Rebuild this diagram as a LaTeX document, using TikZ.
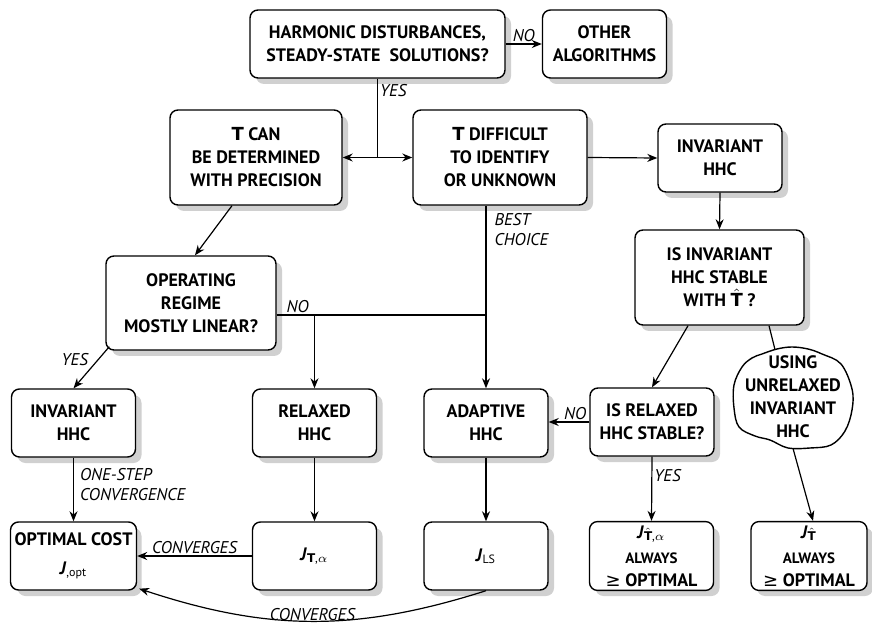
\documentclass[tikz,border=0pt]{standalone}
\usepackage{amsmath,amssymb}
\usepackage{fontspec}
\setmainfont{PT Sans}
\newfontfamily\heavyfont{DejaVu Sans}
\newcommand{\bT}{{\heavyfont\bfseries T}}
\newcommand{\geqsym}{{\heavyfont\mdseries ≥}}
\usepackage{xcolor,tikz}
\usetikzlibrary{arrows.meta}
\definecolor{shadowgray}{RGB}{208,208,208}

\begin{document}
\begin{tikzpicture}[x=0.5pt,y=-0.5pt,>={Stealth[length=5pt,width=4pt]},box/.style={draw,rounded corners=4pt,align=center,line width=0.7pt,minimum width=62pt,minimum height=34pt,inner sep=2pt,font=\fontsize{9}{11.5}\selectfont\bfseries,fill=white},arr/.style={->,line width=0.6pt},lbl/.style={font=\fontsize{8.5}{10}\selectfont\itshape,inner sep=1pt,align=left}]
\useasboundingbox (0,0) rectangle (872,625);
\fill[shadowgray,rounded corners=4pt] (256,16) rectangle (511,84) (548.5,16) rectangle (672.5,84) (176,116) rectangle (348,211) (419,116) rectangle (593,211) (664,130) rectangle (788,198) (641,236) rectangle (810,331) (112,262) rectangle (282,356);
\fill[shadowgray,rounded corners=4pt] (17.5,395) rectangle (141.5,463) (258.5,395) rectangle (382.5,463) (430,395) rectangle (554,463) (596,394) rectangle (720,462);
\fill[shadowgray,rounded corners=4pt] (17.5,528) rectangle (141.5,596) (258.5,528) rectangle (382.5,596) (430,528) rectangle (554,596) (595.5,528) rectangle (719.5,596) (757,528) rectangle (873,596);
\node[box,minimum width=127.5pt] (harm) at (377.5,44) {HARMONIC DISTURBANCES,\\STEADY-STATE\ \ SOLUTIONS?};
\node[box] (other) at (604.5,44) {OTHER\\ALGORITHMS};
\node[box,minimum width=86pt,minimum height=47.5pt] (tcan) at (256,157.5) {\bT{} CAN\\BE DETERMINED\\WITH PRECISION};
\node[box,minimum width=87pt,minimum height=47.5pt] (tdiff) at (500,157.5) {\bT{} DIFFICULT\\TO IDENTIFY\\OR UNKNOWN};
\node[box] (invhhc) at (720,158) {INVARIANT\\HHC};
\node[box,minimum width=84.5pt,minimum height=47.5pt] (isinv) at (719.5,277.5) {IS INVARIANT\\HHC STABLE\\WITH \smash{$\hat{\text{\bT}}$} ?};
\node[box,minimum width=85pt,minimum height=47pt] (oper) at (191,303) {OPERATING\\REGIME\\MOSTLY LINEAR?};
\node[box] (inv2) at (73.5,423) {INVARIANT\\HHC};
\node[box] (relax) at (314.5,423) {RELAXED\\HHC};
\node[box] (adapt) at (486,423) {ADAPTIVE\\HHC};
\node[box] (isrel) at (652,422) {IS RELAXED\\HHC STABLE?};
\draw[line width=0.7pt,fill=white] plot[smooth cycle,tension=0.6] coordinates {(762,354) (777,349) (792,347) (808,349) (822,354) (841,364) (852,389) (852,410) (845,431) (831,445) (810,448) (788,448) (770,440) (755,436) (739,427) (734,408) (734,385) (742,367) (752,358)};
\node[align=center,inner sep=0pt,minimum width=60pt,minimum height=51pt,font=\fontsize{9}{11.5}\selectfont\bfseries] (cloud) at (793,397) {USING\\UNRELAXED\\INVARIANT\\HHC};
\node[box] (opt) at (73.5,556) {OPTIMAL COST\\[3pt]\textit{J}\textsubscript{\mdseries,opt}};
\node[box] (jta) at (314.5,556) {\textit{J}\textsubscript{\bT\mdseries,$\alpha$}};
\node[box] (jls) at (486,556) {\textit{J}\textsubscript{\mdseries LS}};
\node[box] (jtha) at (651.5,556) {\textit{J}\textsubscript{\smash{$\hat{\text{\bT}}$}\mdseries,$\alpha$}\\[1pt]\fontsize{7.5}{9}\selectfont ALWAYS\\\geqsym{} OPTIMAL};
\node[box,minimum width=58pt] (jth) at (809,556) {\textit{J}\textsubscript{\smash{$\hat{\text{\bT}}$}}\\[1pt]\fontsize{7.5}{9}\selectfont ALWAYS\\\geqsym{} OPTIMAL};
\draw[arr] (harm.east) -- node[lbl,above]{NO} (other.west);
\draw[line width=0.6pt] (harm.south) -- node[lbl,right,pos=.15]{YES} (harm.south |- tcan.east);
\draw[arr,<->] (tcan.east) -- (tdiff.west);
\draw[arr] (tdiff.east) -- (invhhc.west);
\draw[arr] (invhhc.south) -- (isinv.north);
\draw[arr] ([xshift=-12pt]tcan.south) -- ([xshift=2pt]oper.north);
\draw[arr] ([xshift=-15.75pt]isinv.south) -- (isrel.north);
\draw[line width=0.6pt] ([xshift=24.75pt]isinv.south) -- ([xshift=-9pt,yshift=-2pt]cloud.north);
\draw[arr] (cloud.south) -- ([xshift=2pt]jth.north);
\draw[arr] (tdiff.south -| adapt.north) -- node[lbl,right=3pt,pos=.13]{BEST\\CHOICE} (adapt.north);
\coordinate (nol) at ([yshift=-6pt]oper.east);
\draw[line width=0.6pt] (nol) -- node[lbl,above,pos=.1]{NO} (nol -| adapt.north);
\draw[arr] (nol -| relax.north) -- (relax.north);
\draw[arr] ([shift={(2pt,2pt)}]oper.south west) -- node[lbl,left=4pt,pos=.3]{YES} (inv2.north);
\draw[arr] (isrel.west) -- node[lbl,above,pos=.35]{NO} (isrel.west -| adapt.east);
\draw[arr] (inv2.south) -- node[lbl,right=2pt,pos=.42]{ONE-STEP\\CONVERGENCE} (opt.north);
\draw[arr] (relax.south) -- (jta.north);
\draw[arr] (adapt.south) -- (jls.north);
\draw[arr] (isrel.south) -- node[lbl,right,pos=.29]{YES} (jtha.north);
\draw[arr] (jta.west) -- node[lbl,above]{CONVERGES} (opt.east);
\draw[arr] (jls.south) to[bend left=18] node[lbl,above,inner sep=0pt]{CONVERGES} ([shift={(1pt,1pt)}]opt.south east);
\end{tikzpicture}
\end{document}
